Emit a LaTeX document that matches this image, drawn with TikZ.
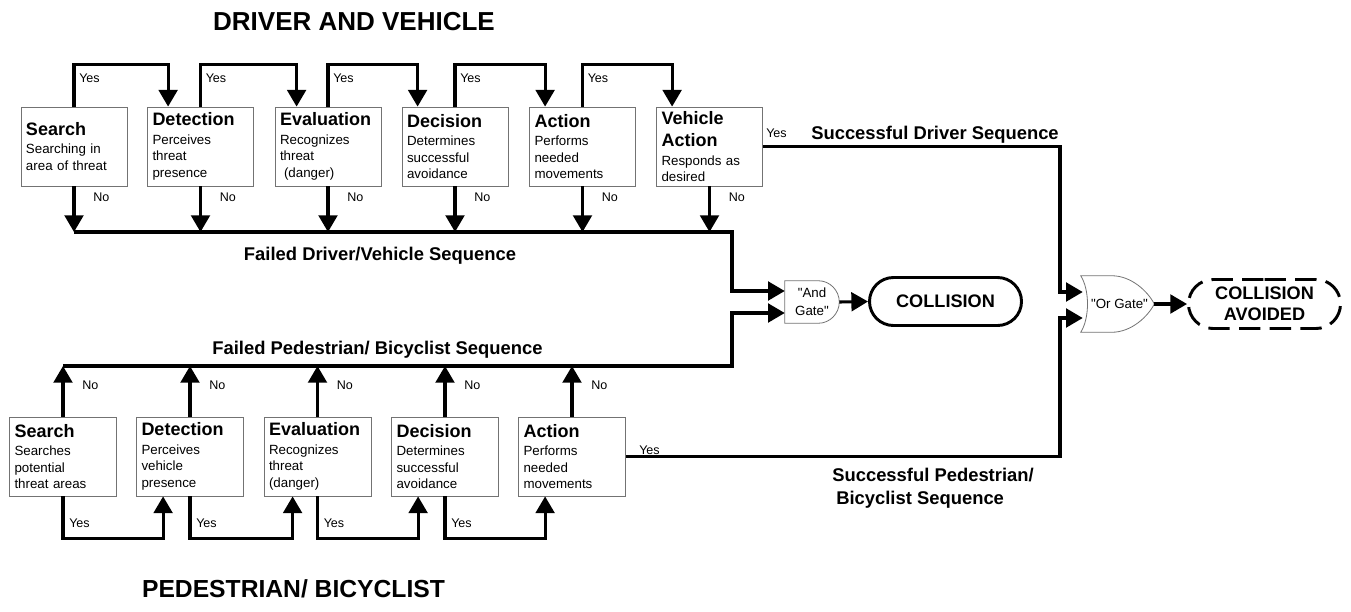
\documentclass[tikz,border=0pt]{standalone}
\usepackage{fontspec}
\setmainfont{Liberation Sans}
\newfontfamily\qfont{Liberation Sans}
\usetikzlibrary{arrows.meta,calc,shapes.misc}
\newcommand\bxt[1]{{\bfseries\fontsize{13.5}{15}\selectfont #1}\\[1.4pt]}
\begin{document}
\begin{tikzpicture}[x=0.75pt,y=-0.75pt,
  box/.style={draw=black!55, line width=0.6pt, minimum width=79.5pt, minimum height=59.25pt,
    text width=72pt, inner sep=0pt, align=left, font=\fontsize{10}{12.5}\selectfont},
  bbox/.style={box, minimum width=80.25pt, text width=72.75pt},
  conn/.style={line width=2.3pt},
  arr/.style={conn, -{Triangle[length=12.5pt,width=14pt]}},
  lab/.style={font=\fontsize{9.4}{11}\selectfont, inner sep=0pt},
  seq/.style={font=\bfseries\fontsize{13.8}{17.25}\selectfont, inner sep=0pt},
  ttl/.style={font=\bfseries\fontsize{19.5}{22}\selectfont, inner sep=0pt},
  gatebox/.style={inner sep=0pt, align=center, font=\qfont\fontsize{10}{13.5}\selectfont},
  gateline/.style={draw=black!55, line width=0.6pt},
  endbox/.style={rounded rectangle, draw, line width=2.2pt, minimum width=114pt, minimum height=36pt,
    inner sep=0pt, align=center, font=\bfseries\fontsize{13.6}{16}\selectfont}
]
\useasboundingbox (0,0) rectangle (1351,611);

% titles
\node[ttl, anchor=base] (tdv) at (354,30) {DRIVER AND VEHICLE};
\node[ttl, font=\bfseries\fontsize{18.5}{22}\selectfont, anchor=base] (tpb) at (293.5,597) {PEDESTRIAN/ BICYCLIST};

% top boxes
\node[box] (t1) at (74,146.5) {\bxt{Search}Searching in\\area of threat};
\node[box] (t2) at (200.5,146.5) {\bxt{Detection}Perceives\\threat\\presence};
\node[box] (t3) at (328,146.5) {\bxt{Evaluation}Recognizes\\threat\\\hspace*{3pt}(danger)};
\node[box] (t4) at (455,146.5) {\bxt{Decision}Determines\\successful\\avoidance};
\node[box] (t5) at (582.5,146.5) {\bxt{Action}Performs\\needed\\movements};
\node[box] (t6) at (709.5,146.5) {{\bfseries\fontsize{13.5}{15}\selectfont Vehicle\\[4.2pt]Action}\\[1.4pt]Responds as\\desired};

% bottom boxes
\node[bbox] (b1) at (63,456.5) {\bxt{Search}Searches\\potential\\threat areas};
\node[bbox] (b2) at (190,456.5) {\bxt{Detection}Perceives\\vehicle\\presence};
\node[bbox] (b3) at (317.5,456.5) {\bxt{Evaluation}Recognizes\\threat\\(danger)};
\node[bbox] (b4) at (445,456.5) {\bxt{Decision}Determines\\successful\\avoidance};
\node[bbox] (b5) at (572,456.5) {\bxt{Action}Performs\\needed\\movements};

% gates
\node[gatebox, minimum width=40.5pt, minimum height=31.5pt] (andg) at (812,302) {"And\\Gate"};
\draw[gateline] (andg.south west) -- (andg.north west) -- ($(andg.north east)+(-21,0)$)
  .. controls ($(andg.north east)+(-9.4,0)$) and ($(andg.east)+(0,-11.6)$) .. (andg.east)
  .. controls ($(andg.east)+(0,11.6)$) and ($(andg.south east)+(-9.4,0)$) .. ($(andg.south east)+(-21,0)$)
  -- cycle;
\node[gatebox, minimum width=54.75pt, minimum height=42pt] (og) at (1117.5,304) {};
\draw[gateline] (og.north west) -- ($(og.north west)+(31,0)$)
  .. controls ($(og.north west)+(51,0)$) and ($(og.east)+(-6,-12)$) .. (og.east)
  .. controls ($(og.east)+(-6,12)$) and ($(og.south west)+(51,0)$) .. ($(og.south west)+(31,0)$)
  -- (og.south west)
  .. controls ($(og.west)+(9,14)$) and ($(og.west)+(9,-14)$) .. (og.north west) -- cycle;
\node[gatebox] (ogt) at (1119.5,304) {"Or Gate"};

% end nodes
\node[endbox] (col) at (945.5,301.5) {COLLISION};
\node[endbox, dash pattern=on 16pt off 7pt, minimum height=36.75pt] (col2) at (1264.5,304) {COLLISION\\AVOIDED};

% coordinates
\coordinate (fdc) at (732,232);
\coordinate (fpc) at (732,366);
\coordinate (sdc) at (1060,147);

% top yes connectors
\foreach \a/\b/\o in {t1/t2/21, t2/t3/22, t3/t4/16, t4/t5/16, t5/t6/16}{
  \draw[arr] (\a.north) -- ++(0,-42) -| ($(\b.north west)+(\o,0)$);
  \node[lab, anchor=west] (ty\a) at ($(\a.north)+(5,-28)$) {Yes};
}
% top no connectors
\foreach \a in {t1,t2,t3,t4,t5,t6}{
  \draw[arr] (\a.south) -- (\a.south |- fdc);
  \node[lab, anchor=west] (tn\a) at ($(\a.south)+(19,11)$) {No};
}
% bottom yes connectors
\foreach \a/\b/\o in {b1/b2/27, b2/b3/29, b3/b4/27, b4/b5/27}{
  \draw[arr] (\a.south) -- ++(0,42) -| ($(\b.south west)+(\o,0)$);
  \node[lab, anchor=west] (by\a) at ($(\a.south)+(6,27)$) {Yes};
}
% bottom no connectors
\foreach \a in {b1,b2,b3,b4,b5}{
  \draw[arr] (\a.north) -- (\a.north |- fpc);
  \node[lab, anchor=west] (bn\a) at ($(\a.north)+(19,-31)$) {No};
}

% failed sequences to and gate
\draw[arr] (t1.south |- fdc) -- (fdc) |- ($(andg.west)+(0,-11)$);
\draw[arr] (b1.north |- fpc) -- (fpc) |- ($(andg.west)+(0,11)$);
\draw[arr] (andg.east) -- (col.west);

% successful sequences to or gate
\draw[arr] (t6.east) -- (t6.east -| sdc) |- ($(og.west)+(2,-12)$);
\draw[arr] (b5.east) -- (b5.east -| sdc) |- ($(og.west)+(2,14)$);
\draw[arr] (og.east) -- (col2.west);

\node[lab, anchor=west] (ysd) at (766,133) {Yes};
\node[lab, anchor=south west] (ysp) at (639,455) {Yes};

% sequence labels
\node[seq, anchor=base] (fdl) at (380,260) {Failed Driver/Vehicle Sequence};
\node[seq, anchor=base] (fpl) at (377.5,354.5) {Failed Pedestrian/ Bicyclist Sequence};
\node[seq, anchor=base] (sdl) at (935,139) {Successful Driver Sequence};
\node[seq, align=left, anchor=north west] (spl) at (832,468) {Successful Pedestrian/\\\hspace*{3pt}Bicyclist Sequence};
\end{tikzpicture}
\end{document}
